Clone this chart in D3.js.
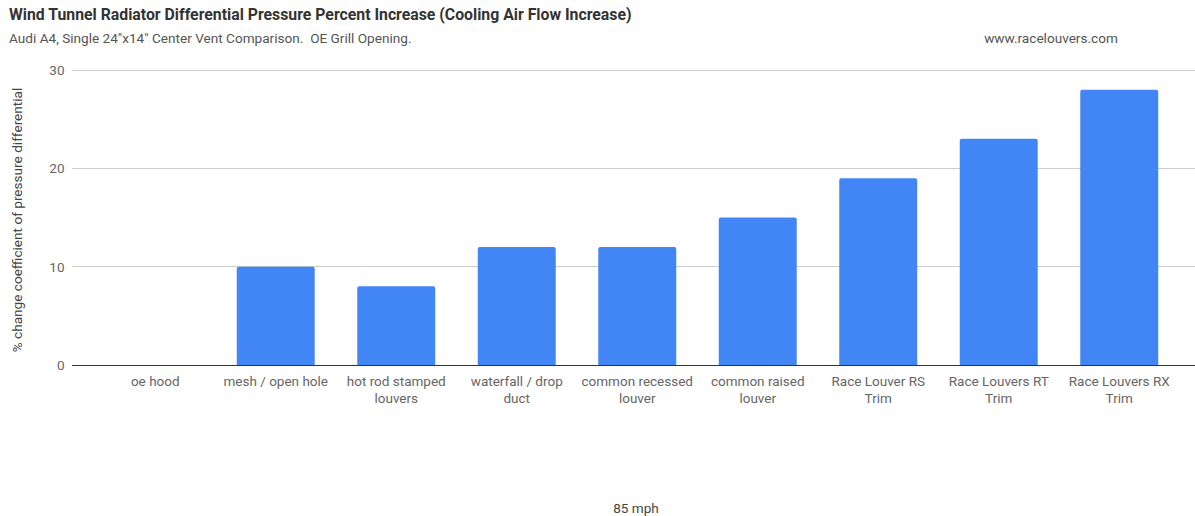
<!DOCTYPE html>
<html><head><meta charset="utf-8">
<script src="https://cdn.jsdelivr.net/npm/d3@7"></script>
<style>body{margin:0;background:#fff;font-family:Roboto,Arial,sans-serif;} text{white-space:pre;}</style>
</head><body><svg id="c" width="1195" height="516"></svg>
<script>
const categories = [["oe hood"],["mesh / open hole"],["hot rod stamped","louvers"],["waterfall / drop","duct"],["common recessed","louver"],["common raised","louver"],["Race Louver RS","Trim"],["Race Louvers RT","Trim"],["Race Louvers RX","Trim"]];
const values = [0,10,8,12,12,15,19,23,28];
const yTicks = [0,10,20,30];
const title = "Wind Tunnel Radiator Differential Pressure Percent Increase (Cooling Air Flow Increase)";
const subtitle = "Audi A4, Single 24\"x14\" Center Vent Comparison.  OE Grill Opening.";
const website = "www.racelouvers.com";
const yTitle = "% change coefficient of pressure differential";
const xTitle = "85 mph";

const svg = d3.select("#c");
const keys = categories.map((c,i)=>i);
const x = d3.scaleBand().domain(keys).range([95,1179.5]).paddingInner(0.353).paddingOuter(0.1765);
const y = d3.scaleLinear().domain([0,30]).range([365,70]);

svg.append("text").attr("x",9).attr("y",20).attr("font-size",15.8).attr("font-weight","bold").attr("fill","#333").text(title);
svg.append("text").attr("x",9).attr("y",43).attr("font-size",13.6).attr("fill","#555").text(subtitle);
svg.append("text").attr("x",1051).attr("y",43).attr("text-anchor","middle").attr("font-size",13.6).attr("fill","#555").text(website);

// gridlines
svg.append("g").selectAll("line").data(yTicks.filter(t=>t!==0)).join("line")
  .attr("x1",72).attr("x2",1195).attr("y1",d=>y(d)).attr("y2",d=>y(d))
  .attr("stroke","#cccccc").attr("stroke-width",1).attr("shape-rendering","crispEdges");
// y labels
svg.append("g").selectAll("text").data(yTicks).join("text")
  .attr("x",64.5).attr("y",d=>y(d)+5).attr("text-anchor","end").attr("font-size",13.5).attr("fill","#666").text(d=>d);

// bars with slight rounded top
const r = 2;
svg.append("g").selectAll("path").data(values.map((v,i)=>({v,i})).filter(d=>d.v>0)).join("path")
  .attr("fill","#4285f4")
  .attr("d",d=>{const x0=x(d.i),w=x.bandwidth(),y0=y(d.v),y1=y(0);
    return `M${x0},${y1}V${y0+r}Q${x0},${y0} ${x0+r},${y0}H${x0+w-r}Q${x0+w},${y0} ${x0+w},${y0+r}V${y1}Z`;});

// baseline
svg.append("line").attr("x1",72).attr("x2",1195).attr("y1",y(0)).attr("y2",y(0))
  .attr("stroke","#333").attr("stroke-width",1).attr("shape-rendering","crispEdges");

// x labels
const xl = svg.append("g").selectAll("text").data(categories.map((c,i)=>({c,i}))).join("text")
  .attr("x",d=>x(d.i)+x.bandwidth()/2).attr("y",386).attr("text-anchor","middle").attr("font-size",13.5).attr("fill","#666");
xl.selectAll("tspan").data(d=>d.c.map(t=>({t,cx:x(d.i)+x.bandwidth()/2}))).join("tspan")
  .attr("x",d=>d.cx).attr("dy",(d,j)=>j===0?0:16.5).text(d=>d.t);

svg.append("text").attr("transform","translate(22,220) rotate(-90)").attr("text-anchor","middle").attr("font-size",13.6).attr("fill","#444").text(yTitle);
svg.append("text").attr("x",636).attr("y",513).attr("text-anchor","middle").attr("font-size",13.6).attr("fill","#444").text(xTitle);
</script></body></html>
